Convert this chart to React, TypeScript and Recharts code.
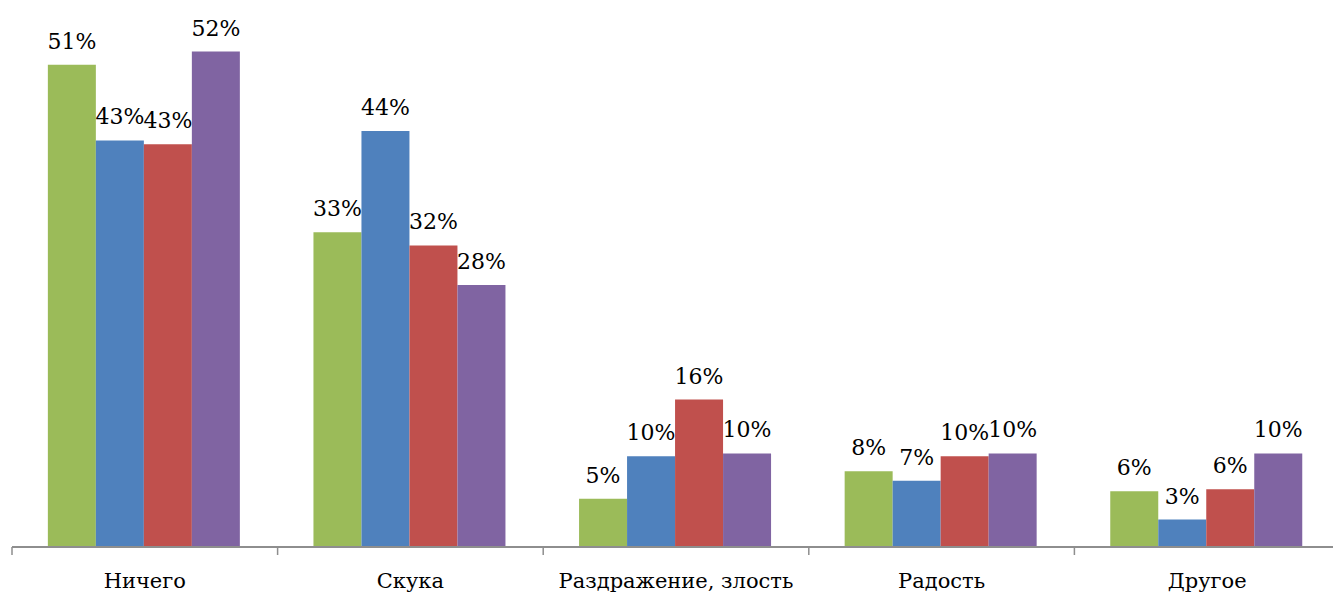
import { Bar, BarChart, LabelList, XAxis, YAxis } from "recharts";

const categories = ["Ничего", "Скука", "Раздражение, злость", "Радость", "Другое"];
const green = [51.0, 33.3, 5.1, 8.0, 5.9];
const blue = [43.0, 44.0, 9.6, 7.0, 2.9];
const red = [42.6, 31.9, 15.6, 9.6, 6.1];
const purple = [52.4, 27.7, 9.9, 9.9, 9.9];

const series = [
  { key: "s1", values: green, color: "#9BBB59" },
  { key: "s2", values: blue, color: "#4F81BD" },
  { key: "s3", values: red, color: "#C0504D" },
  { key: "s4", values: purple, color: "#8064A2" },
];

const data = categories.map((name, i) => {
  const row: { [k: string]: string | number } = { name };
  series.forEach((s) => {
    row[s.key] = s.values[i];
  });
  return row;
});

const FONT = "'DejaVu Serif', 'Liberation Serif', serif";
const CHART_W = 1350;
const CHART_H = 594;
const MARGIN = { top: 27, right: 10, bottom: 0, left: 12 };
const BAND = (CHART_W - MARGIN.left - MARGIN.right) / categories.length;

const CategoryTick = (props: any) => {
  const { x, y, payload } = props;
  const left = x - BAND / 2;
  return (
    <g>
      <line x1={left} y1={y} x2={left} y2={y + 8} stroke="#8e8e8e" strokeWidth={1.5} />
      <text x={x} y={y + 41} textAnchor="middle" style={{ fontFamily: FONT, fontSize: 21, fill: "#000" }}>
        {payload.value}
      </text>
    </g>
  );
};

export default function App() {
  return (
    <div
      style={{
        position: "absolute",
        left: 0,
        top: 0,
        width: 1333,
        height: 594,
        overflow: "hidden",
        background: "#fff",
        fontFamily: FONT,
      }}
    >
      <BarChart
        width={CHART_W}
        height={CHART_H}
        data={data}
        margin={MARGIN}
        barCategoryGap="13.5%"
        barGap={0}
      >
        <XAxis
          dataKey="name"
          height={47}
          axisLine={{ stroke: "#8e8e8e", strokeWidth: 2 }}
          tickLine={false}
          tickSize={0}
          tickMargin={0}
          interval={0}
          tick={<CategoryTick />}
        />
        <YAxis hide domain={[0, 55]} />
        {series.map((s) => (
          <Bar key={s.key} dataKey={s.key} fill={s.color} isAnimationActive={false}>
            <LabelList
              dataKey={s.key}
              position="top"
              offset={16}
              formatter={(v: any) => `${Math.round(Number(v))}%`}
              style={{ fontFamily: FONT, fontSize: 22, fill: "#000" }}
            />
          </Bar>
        ))}
      </BarChart>
    </div>
  );
}
